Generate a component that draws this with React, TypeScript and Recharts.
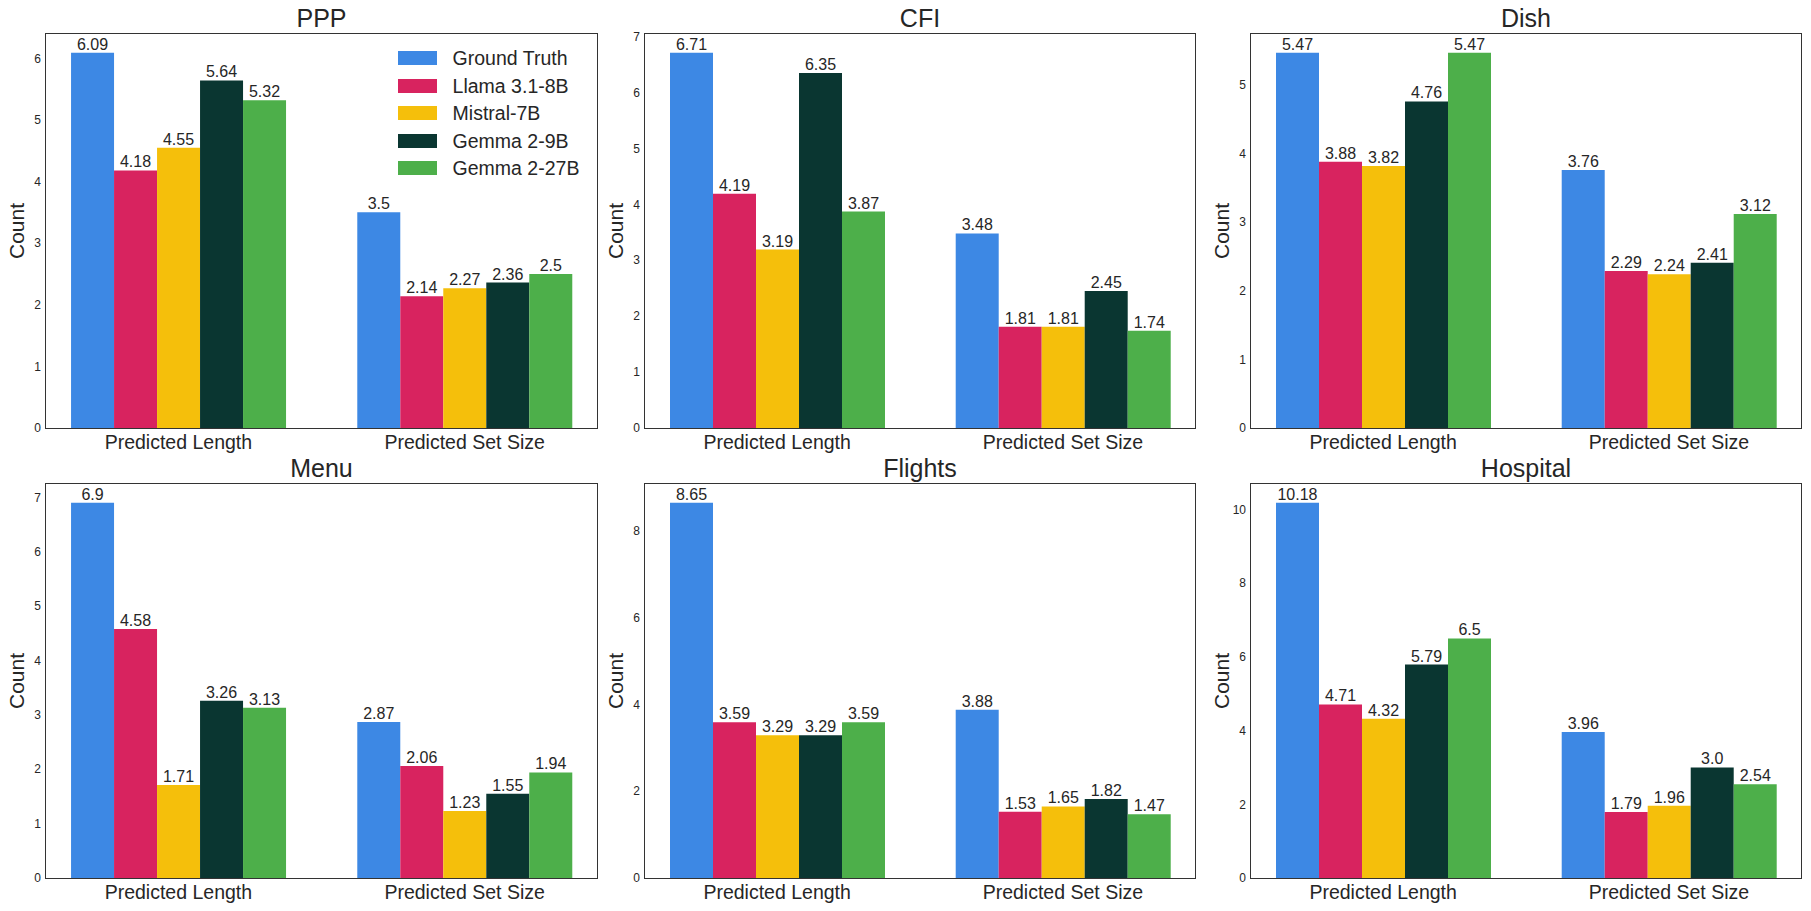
import React from 'react';
import { BarChart, Bar, XAxis, YAxis, LabelList } from 'recharts';

// ---------- data ----------
const panels = ['PPP', 'CFI', 'Dish', 'Menu', 'Flights', 'Hospital'];
const categories = ['Predicted Length', 'Predicted Set Size'];
const categoryPositions = [0, 1];
const models = ['Ground Truth', 'Llama 3.1-8B', 'Mistral-7B', 'Gemma 2-9B', 'Gemma 2-27B'];

// values per panel: [Predicted Length, Predicted Set Size]
const groundTruth = [[6.09, 3.5], [6.71, 3.48], [5.47, 3.76], [6.9, 2.87], [8.65, 3.88], [10.18, 3.96]];
const llama = [[4.18, 2.14], [4.19, 1.81], [3.88, 2.29], [4.58, 2.06], [3.59, 1.53], [4.71, 1.79]];
const mistral = [[4.55, 2.27], [3.19, 1.81], [3.82, 2.24], [1.71, 1.23], [3.29, 1.65], [4.32, 1.96]];
const gemma9 = [[5.64, 2.36], [6.35, 2.45], [4.76, 2.41], [3.26, 1.55], [3.29, 1.82], [5.79, 3.0]];
const gemma27 = [[5.32, 2.5], [3.87, 1.74], [5.47, 3.12], [3.13, 1.94], [3.59, 1.47], [6.5, 2.54]];

const yTicks = [
  [0, 1, 2, 3, 4, 5, 6],
  [0, 1, 2, 3, 4, 5, 6, 7],
  [0, 1, 2, 3, 4, 5],
  [0, 1, 2, 3, 4, 5, 6, 7],
  [0, 2, 4, 6, 8],
  [0, 2, 4, 6, 8, 10],
];

const seriesValues = [groundTruth, llama, mistral, gemma9, gemma27];
const seriesKeys = ['gt', 'llama', 'mistral', 'gemma9', 'gemma27'];

// ---------- style ----------
const colors = ['#3D88E4', '#D8235F', '#F5BF0B', '#0A3631', '#4DAF4A'];
const FONT = '"Liberation Sans", Arial, Helvetica, sans-serif';
const TEXT = '#262626';
const FRAME = '#333333';

const colLefts = [46, 645, 1251];
const colWidths = [551, 550, 550];
const rowTops = [34, 484];
const frameH = 394;
const LEFT_SPACE = 46;
const TOP_SPACE = 34;
const BOTTOM_SPACE = 30;
const RIGHT_SPACE = 4;

function fmt(v: any) {
  const n = Number(v);
  return Number.isInteger(n) ? n.toFixed(1) : String(n);
}

function Panel({ idx }: { idx: number }) {
  const col = idx % 3;
  const row = Math.floor(idx / 3);
  const fl = colLefts[col];
  const fw = colWidths[col];
  const ft = rowTops[row];
  const chartW = LEFT_SPACE + fw + RIGHT_SPACE;
  const chartH = TOP_SPACE + frameH + BOTTOM_SPACE;

  const data = categories.map((c, j) => {
    const d: any = { x: categoryPositions[j], name: c };
    seriesKeys.forEach((k, s) => {
      d[k] = seriesValues[s][idx][j];
    });
    return d;
  });
  const allVals = seriesValues.flatMap((s) => s[idx]);
  const yMax = Math.max(...allVals) * 1.05;

  return (
    <>
      <div
        style={{
          position: 'absolute',
          left: fl - LEFT_SPACE,
          top: ft - TOP_SPACE,
          width: chartW,
          height: chartH,
        }}
      >
        <BarChart
          width={chartW}
          height={chartH}
          data={data}
          margin={{ top: TOP_SPACE, right: RIGHT_SPACE, left: 0, bottom: 0 }}
          barCategoryGap="12.5%"
          barGap={0}
        >
          <XAxis
            dataKey="x"
            type="number"
            domain={[-0.4625, 1.4625]}
            ticks={categoryPositions}
            tickFormatter={(v: any) => categories[categoryPositions.indexOf(v)]}
            interval={0}
            allowDataOverflow
            height={BOTTOM_SPACE}
            tickLine={false}
            tickSize={4}
            tickMargin={3}
            axisLine={false}
            tick={{ fontSize: 19.5, fill: TEXT, fontFamily: FONT }}
          />
          <YAxis
            type="number"
            domain={[0, yMax]}
            ticks={yTicks[idx]}
            interval={0}
            allowDataOverflow
            width={LEFT_SPACE}
            tickLine={false}
            tickSize={3}
            tickMargin={2}
            axisLine={false}
            tick={{ fontSize: 12, fill: TEXT, fontFamily: FONT }}
          />
          {seriesKeys.map((k, s) => (
            <Bar key={k} dataKey={k} name={models[s]} fill={colors[s]} isAnimationActive={false}>
              <LabelList
                dataKey={k}
                position="top"
                offset={3}
                formatter={fmt}
                fill={TEXT}
                fontSize={16}
                fontFamily={FONT}
              />
            </Bar>
          ))}
        </BarChart>
      </div>
      <div
        style={{
          position: 'absolute',
          left: fl - 0.75,
          top: ft - 0.75,
          width: fw + 1.5,
          height: frameH + 1.5,
          border: `1.5px solid ${FRAME}`,
          boxSizing: 'border-box',
          pointerEvents: 'none',
        }}
      />
      <div
        style={{
          position: 'absolute',
          left: fl,
          width: fw,
          top: ft - 30,
          textAlign: 'center',
          fontFamily: FONT,
          fontSize: 25,
          lineHeight: '28px',
          color: TEXT,
        }}
      >
        {panels[idx]}
      </div>
      <div
        style={{
          position: 'absolute',
          left: fl - 29.5,
          top: ft + frameH / 2,
          transform: 'translate(-50%, -50%) rotate(-90deg)',
          fontFamily: FONT,
          fontSize: 21,
          lineHeight: '24px',
          color: TEXT,
          whiteSpace: 'nowrap',
        }}
      >
        Count
      </div>
    </>
  );
}

function LegendBox() {
  return (
    <div style={{ position: 'absolute', left: 398, top: 44.5 }}>
      {models.map((m, i) => (
        <div key={m} style={{ display: 'flex', alignItems: 'center', height: 27.5 }}>
          <div style={{ width: 39, height: 13.7, background: colors[i] }} />
          <div
            style={{
              marginLeft: 15.6,
              fontFamily: FONT,
              fontSize: 19.5,
              lineHeight: '22px',
              color: TEXT,
              whiteSpace: 'nowrap',
            }}
          >
            {m}
          </div>
        </div>
      ))}
    </div>
  );
}

export default function App() {
  return (
    <div
      style={{
        position: 'absolute',
        left: 0,
        top: 0,
        width: 1811,
        height: 911,
        background: '#ffffff',
        overflow: 'hidden',
      }}
    >
      {panels.map((p, i) => (
        <Panel key={p} idx={i} />
      ))}
      <LegendBox />
    </div>
  );
}
